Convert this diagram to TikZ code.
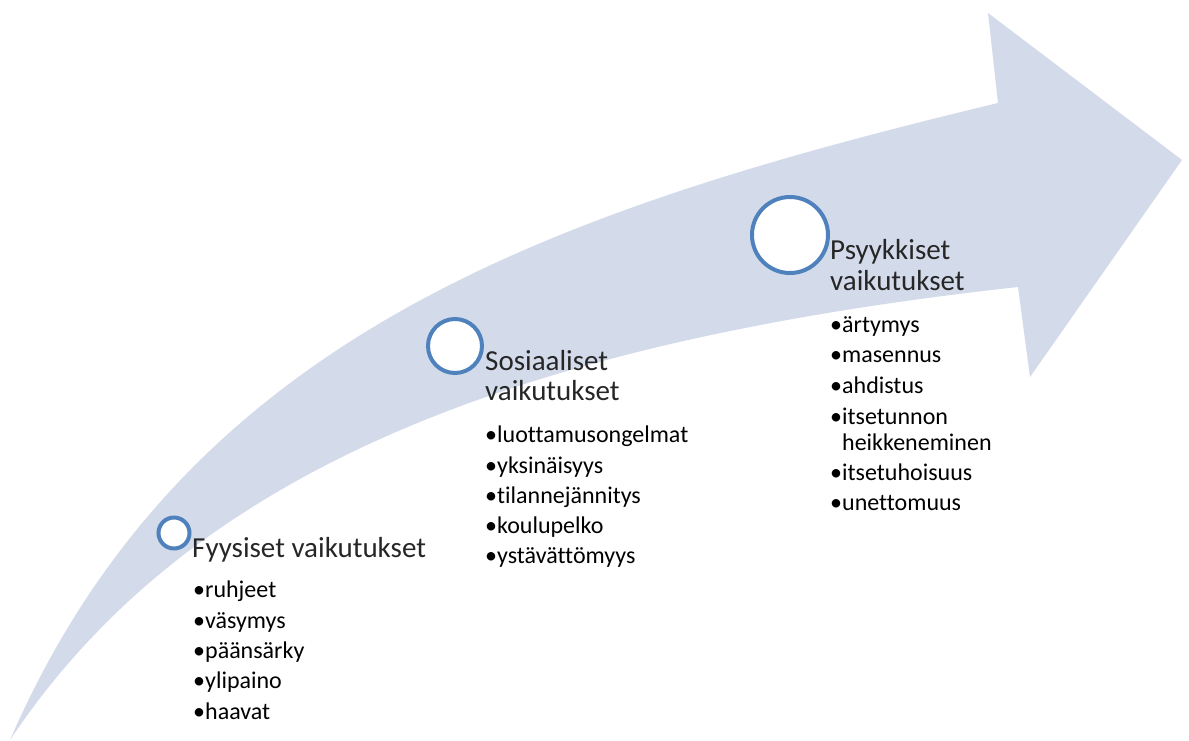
\documentclass[tikz,border=0pt]{standalone}
\usepackage{fontspec}
\setmainfont{Carlito}[Ligatures={NoCommon}]
\definecolor{arrowfill}{HTML}{D3DAE9}
\definecolor{ringblue}{HTML}{4F81BD}
\definecolor{headtext}{HTML}{262626}
\begin{document}
\begin{tikzpicture}[x=1pt,y=-1pt,
  ring/.style={circle, draw=ringblue, line width=4pt, fill=white, inner sep=0pt},
  head/.style={anchor=base west, inner sep=0pt, font=\fontsize{29}{34}\selectfont, text=headtext},
  item/.style={anchor=base west, inner sep=0pt, font=\fontsize{24}{28}\selectfont, text=black}]
\useasboundingbox (0,0) rectangle (1189,740);
% curved arrow
\fill[arrowfill] (10,740) .. controls (185,337.5) and (548,211) .. (998,103)
  -- (988,13) -- (1182,160) -- (1030,377) -- (1018,287)
  .. controls (518,342) and (190,470) .. (10,740) -- cycle;
% rings
\node[ring, minimum size=31pt] (c1) at (174,533) {};
\node[ring, minimum size=54pt] (c2) at (455,346) {};
\node[ring, minimum size=76pt] (c3) at (790,235) {};
% headings
\node[head] (h1) at (192,557) {Fyysiset vaikutukset};
\node[head] (h2a) at (485,370) {Sosiaaliset};
\node[head] (h2b) at (485,400.7) {vaikutukset};
\node[head] (h3a) at (830,259.3) {Psyykkiset};
\node[head] (h3b) at (830,290.7) {vaikutukset};
% lists
\foreach \t [count=\i] in {ruhjeet,väsymys,päänsärky,ylipaino,haavat}
  \node[item] (f\i) at (193,{597.7+30.4*(\i-1)}) {•\t};
\foreach \t [count=\i] in {luottamusongelmat,yksinäisyys,tilannejännitys,koulupelko,ystävättömyys}
  \node[item] (s\i) at (485,{442.7+30.3*(\i-1)}) {•\t};
\node[item] (p1) at (830,332.3) {•ärtymys};
\node[item] (p2) at (830,362.3) {•masennus};
\node[item] (p3) at (830,393.3) {•ahdistus};
\node[item] (p4) at (830,424) {•itsetunnon};
\node[item] (p4b) at (830,450) {\phantom{•}heikkeneminen};
\node[item] (p5) at (830,480) {•itsetuhoisuus};
\node[item] (p6) at (830,510.7) {•unettomuus};
\end{tikzpicture}
\end{document}
